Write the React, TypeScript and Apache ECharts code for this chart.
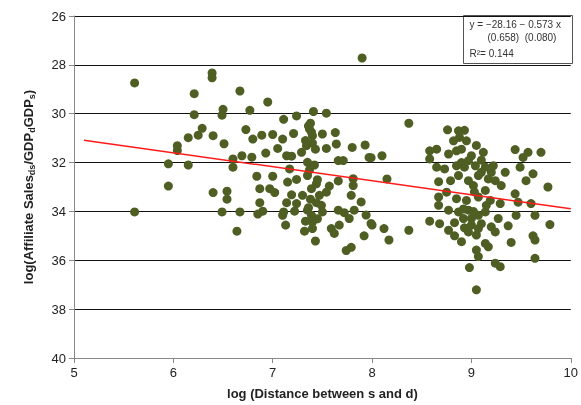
import React, { useEffect, useRef } from "react";
import * as echarts from "echarts";

// [log distance, log(affiliate sales / GDP GDP)]
const points: [number, number][] = [
  [5.61, 28.74], [6.39, 28.33], [6.39, 28.53], [6.21, 29.18], [6.67, 29.07], [6.95, 29.52],
  [6.21, 30.04], [6.5, 29.82], [6.49, 30.06], [6.77, 29.86], [7.41, 29.91], [7.54, 29.98],
  [7.11, 30.23], [7.24, 30.09], [7.38, 30.39], [6.29, 30.6], [6.25, 30.88], [6.15, 30.98],
  [6.04, 31.31], [6.04, 31.51], [6.4, 30.9], [6.51, 31.23], [6.73, 30.65], [6.8, 31.04],
  [6.89, 30.88], [7.0, 30.85], [7.1, 31.04], [7.21, 30.81], [7.37, 30.63], [7.4, 30.9],
  [7.5, 30.83], [7.63, 30.77], [7.64, 31.24], [7.54, 31.42], [7.8, 31.38], [7.93, 31.28],
  [7.99, 31.8], [5.95, 32.05], [6.15, 32.1], [6.6, 31.85], [6.6, 32.19], [6.69, 31.72],
  [6.79, 31.78], [6.93, 31.61], [7.05, 31.42], [7.14, 31.72], [7.19, 31.74], [7.29, 31.58],
  [7.34, 31.31], [7.35, 31.99], [7.66, 31.92], [7.71, 31.92], [5.95, 32.96], [6.84, 32.56],
  [7.0, 32.56], [7.17, 32.26], [7.35, 32.53], [7.15, 32.8], [7.24, 32.69], [7.44, 32.87],
  [7.57, 32.96], [7.66, 32.75], [7.81, 32.66], [7.81, 32.94], [6.87, 33.07], [6.97, 33.07],
  [7.02, 33.23], [6.4, 33.23], [6.54, 33.17], [6.54, 33.5], [7.19, 33.32], [7.3, 33.34],
  [7.39, 33.07], [7.47, 33.34], [7.54, 33.21], [7.79, 33.34], [6.87, 33.64], [7.14, 33.64],
  [7.24, 33.68], [7.44, 33.64], [7.49, 33.75], [7.89, 33.61], [5.61, 34.02], [6.49, 34.02],
  [6.67, 34.02], [6.85, 34.11], [6.9, 33.99], [7.11, 34.02], [7.22, 33.99], [7.35, 33.95],
  [7.5, 34.02], [7.66, 33.95], [7.72, 34.05], [7.82, 33.95], [7.94, 34.15], [7.1, 34.16],
  [7.13, 34.56], [7.39, 34.16], [7.4, 34.43], [7.77, 34.29], [7.99, 34.49], [6.64, 34.81],
  [7.32, 34.81], [7.4, 34.7], [7.59, 34.7], [7.67, 34.56], [7.62, 34.9], [7.92, 35.0],
  [7.43, 35.21], [7.74, 35.6], [7.79, 35.47], [7.9, 27.72],
  [7.36, 30.5], [7.39, 30.75], [7.33, 31.1], [7.4, 31.2], [7.43, 31.45], [7.37, 32.3],
  [7.42, 32.1], [7.38, 33.5], [7.45, 32.7], [7.33, 34.4], [7.45, 34.3], [7.36, 33.85],
  [8.37, 30.39], [8.76, 30.66], [8.87, 30.7], [8.93, 30.68], [8.88, 30.97], [8.95, 31.11],
  [8.82, 31.11], [8.58, 31.52], [8.65, 31.45], [8.77, 31.65], [8.9, 31.45], [9.0, 31.72],
  [9.12, 31.58], [9.44, 31.47], [9.57, 31.58], [9.7, 31.58], [9.52, 31.79], [8.58, 31.85],
  [8.65, 32.19], [8.73, 32.26], [8.85, 32.13], [8.93, 32.19], [9.04, 32.13], [9.14, 32.19],
  [9.22, 32.13], [9.34, 32.4], [9.49, 32.19], [9.62, 32.46], [9.55, 32.74], [9.77, 33.0],
  [8.67, 32.78], [8.79, 32.74], [8.87, 32.53], [8.97, 32.74], [9.07, 32.53], [9.17, 32.67],
  [9.24, 32.74], [9.3, 32.94], [9.14, 33.14], [8.75, 33.21], [8.67, 33.41], [8.85, 33.48],
  [8.95, 33.55], [9.07, 33.41], [9.19, 33.55], [9.29, 33.68], [9.44, 33.28], [9.47, 33.62],
  [9.6, 33.68], [8.67, 33.75], [8.77, 33.95], [8.87, 34.02], [8.97, 33.95], [9.07, 34.16],
  [9.14, 34.02], [9.45, 34.16], [9.64, 34.16], [8.58, 34.4], [8.68, 34.5], [8.83, 34.46],
  [8.93, 34.67], [9.0, 34.56], [9.07, 34.7], [9.2, 34.63], [9.37, 34.59], [9.79, 34.54],
  [8.77, 34.77], [8.83, 35.0], [8.97, 34.84], [9.05, 34.97], [9.24, 34.84], [9.4, 35.27],
  [9.62, 35.0], [9.64, 35.17], [8.9, 35.24], [9.14, 35.31], [9.17, 35.45], [9.05, 35.58],
  [9.07, 35.85], [9.64, 35.92], [8.98, 36.3], [9.24, 36.12], [9.29, 36.26], [9.05, 37.21],
  [7.97, 31.79], [8.1, 31.72], [8.15, 32.67], [8.0, 34.56], [8.12, 34.7], [8.17, 35.17],
  [8.37, 34.77], [8.85, 31.52], [8.97, 31.92], [9.1, 32.4], [9.02, 32.94], [9.15, 33.75],
  [9.27, 34.29], [8.92, 34.29], [9.0, 34.29], [9.05, 31.3], [9.1, 31.9], [9.2, 32.4],
  [8.9, 32.0], [9.03, 33.2], [8.92, 33.9], [9.1, 34.5], [9.02, 34.0],
];

const fitLine: [number, number][] = [
  [5.1, 28.16 + 0.573 * 5.1],
  [10, 28.16 + 0.573 * 10],
];

export default function App() {
  const ref = useRef<HTMLDivElement>(null);

  useEffect(() => {
    if (!ref.current) return;
    const chart = echarts.init(ref.current, undefined, { renderer: "svg" });
    const font = "Liberation Sans, Arial, sans-serif";
    chart.setOption({
      animation: false,
      textStyle: { fontFamily: font },
      grid: { left: 74, right: 8, top: 16, bottom: 45 },
      xAxis: {
        type: "value",
        min: 5,
        max: 10,
        interval: 1,
        name: "log (Distance between s and d)",
        nameLocation: "middle",
        nameGap: 29,
        nameTextStyle: { fontSize: 13, fontWeight: "bold", color: "#222" },
        axisLine: { lineStyle: { color: "#888" } },
        axisTick: { show: true, lineStyle: { color: "#888" } },
        axisLabel: { fontSize: 13, color: "#222" },
        splitLine: { show: false },
      },
      yAxis: {
        type: "value",
        inverse: true,
        min: 26,
        max: 40,
        interval: 2,
        name: "{a|log(Affiliate Sales}{s|ds}{a|/GDP}{s|d}{a|GDP}{s|s}{a|)}",
        nameLocation: "middle",
        nameGap: 38,
        nameTextStyle: {
          rich: {
            a: { fontSize: 13, fontWeight: "bold", color: "#222", fontFamily: font },
            s: { fontSize: 9, fontWeight: "bold", color: "#222", fontFamily: font, verticalAlign: "bottom", padding: [6, 0, 0, 0] },
          },
        },
        axisLine: { show: true, lineStyle: { color: "#888" } },
        axisTick: { show: true, lineStyle: { color: "#888" } },
        axisLabel: { fontSize: 13, color: "#222" },
        splitLine: { lineStyle: { color: "#111", width: 1 } },
      },
      series: [
        {
          type: "scatter",
          data: points,
          symbolSize: 9,
          itemStyle: { color: "#4f5f23", opacity: 1 },
        },
        {
          type: "line",
          data: fitLine,
          symbol: "none",
          lineStyle: { color: "#ff1a1a", width: 1.5 },
          z: 3,
        },
      ],
      graphic: [
        {
          type: "group",
          left: 463,
          top: 15,
          z: 10,
          children: [
            { type: "rect", shape: { x: 0, y: 0, width: 109, height: 48 }, style: { fill: "#fff", stroke: "#555", lineWidth: 1 } },
            { type: "text", x: 6, y: 4, style: { text: "y = \u221228.16 \u2212 0.573 x", fontSize: 10, fill: "#333", fontFamily: font } },
            { type: "text", x: 24, y: 17, style: { text: "(0.658)  (0.080)", fontSize: 10, fill: "#333", fontFamily: font } },
            { type: "text", x: 6, y: 33, style: { text: "R\u00b2= 0.144", fontSize: 10, fill: "#333", fontFamily: font } },
          ],
        },
      ],
    });
    return () => chart.dispose();
  }, []);

  return <div ref={ref} style={{ position: "fixed", left: 0, top: 0, width: 581, height: 405 }} />;
}
